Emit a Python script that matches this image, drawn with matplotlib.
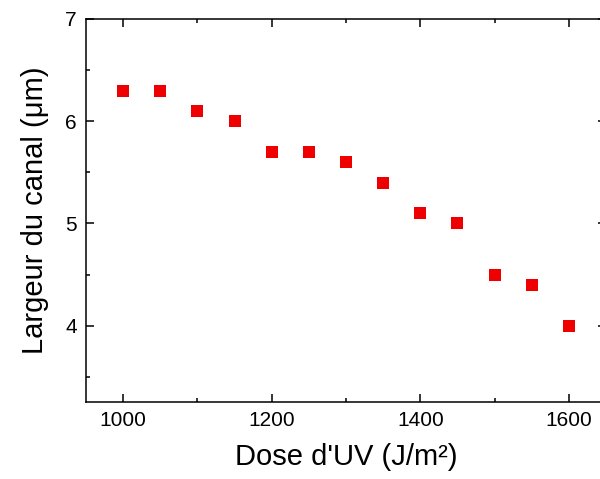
import matplotlib
matplotlib.use("Agg")
import matplotlib.pyplot as plt
from matplotlib.ticker import MultipleLocator

dose = [1000, 1050, 1100, 1150, 1200, 1250, 1300, 1350, 1400, 1450, 1500, 1550, 1600]
largeur = [6.3, 6.3, 6.1, 6.0, 5.7, 5.7, 5.6, 5.4, 5.1, 5.0, 4.5, 4.4, 4.0]

plt.rcParams['font.family'] = ['Liberation Sans', 'DejaVu Sans']

fig = plt.figure(figsize=(6.0, 4.79), dpi=100)
ax = fig.add_axes([86/600, (479-402.3)/479, 520/600, (402.3-19)/479])

ax.plot(dose, largeur, linestyle='none', marker='s', markersize=8,
        color='#ee0000', markeredgewidth=0)

ax.set_xlim(950, 1650)
ax.set_ylim(3.25, 7)
ax.xaxis.set_major_locator(MultipleLocator(200))
ax.xaxis.set_minor_locator(MultipleLocator(100))
ax.yaxis.set_major_locator(MultipleLocator(1))
ax.yaxis.set_minor_locator(MultipleLocator(0.5))

ax.tick_params(which='both', direction='in', top=True, right=True, width=1.1,
               labelsize=15, pad=6.5)
ax.tick_params(which='major', length=5.5)
ax.tick_params(which='minor', length=3)
for s in ax.spines.values():
    s.set_linewidth(1.1)

ax.set_xlabel("Dose d'UV (J/m²)", fontsize=21, labelpad=9)
ax.set_ylabel("Largeur du canal (μm)", fontsize=21, labelpad=12)

fig.savefig("out.png", dpi=100)
